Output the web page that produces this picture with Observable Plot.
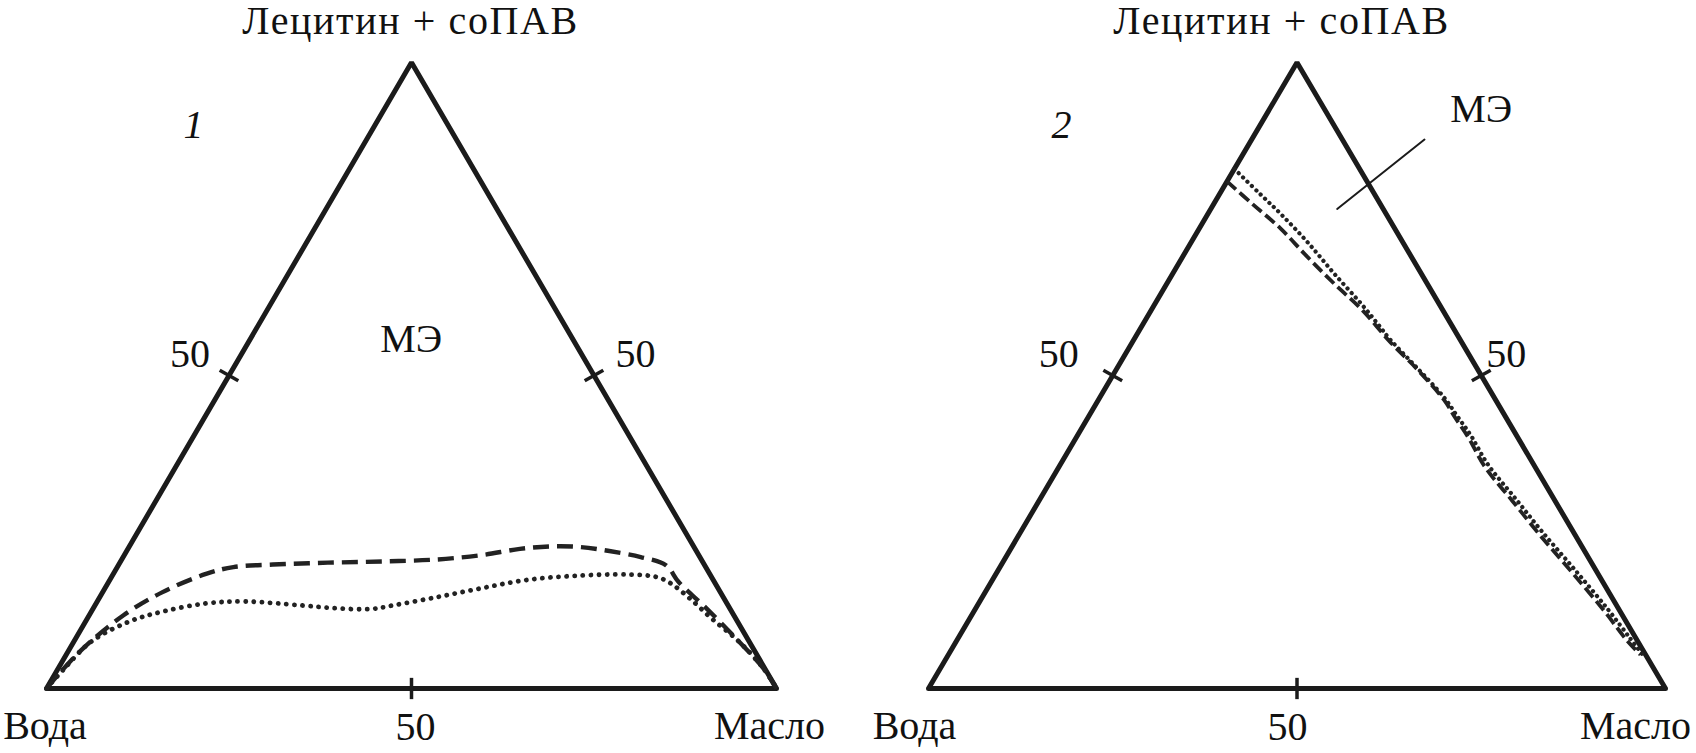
<!DOCTYPE html>
<html>
<head>
<meta charset="utf-8">
<script src="https://cdn.jsdelivr.net/npm/d3@7"></script>
<script src="https://cdn.jsdelivr.net/npm/@observablehq/plot@0.6"></script>
<style>
html, body { margin: 0; padding: 0; background: #fff; }
#chart { position: relative; width: 1696px; height: 753px; overflow: hidden; background: #fff; }
#chart svg { position: absolute; top: 0; }
</style>
</head>
<body>
<div id="chart"></div>
<script>
// ---- Data (ternary compositions: [oil %, lecithin + co-surfactant %]; water = 100 - oil - lecithin) ----
const vertexNames = ["Вода", "Масло", "Лецитин + соПАВ"];
const vertexComps = [[0, 0], [100, 0], [0, 100]];
const tickValue = 50;
const tickComps = [[50, 0], [0, 50], [50, 50]];      // bottom, left, right edge at 50 %
const panelNames = ["1", "2"];
const regionLabel = "МЭ";

// Panel 1 – boundary curves
const p1Dashed = [[0,0],[1.6,5.9],[4.7,11.7],[8.2,15.4],[12.7,18.3],[15.9,19.4],[21.1,19.8],[28.5,20.1],
  [35.9,20.3],[43.1,20.6],[48.9,21.3],[53.7,22.3],[57.9,22.7],[61.8,22.6],[65.9,22.0],[70.9,21.0],
  [75.0,19.7],[78.1,17.0],[84.0,12.8],[91.1,7.5],[96.5,3.3],[100,0]];
const p1Dotted = [[0,0],[0.8,3.0],[2.4,7.5],[6.0,10.7],[9.8,12.3],[15.1,13.6],[20.2,13.9],[28.0,13.3],
  [33.5,12.8],[38.1,12.7],[40.9,13.3],[46.2,14.6],[51.5,16.0],[56.9,17.3],[63.3,18.0],[70.7,18.2],
  [74.7,17.8],[77.1,16.8],[80.9,14.4],[85.5,11.2],[91.1,7.5],[96.5,3.3],[100,0]];

// Panel 2 – boundary curves
const p2Dotted = [[0,83],[5.2,79.2],[9.9,75.8],[15.9,71.2],[22.0,66.2],[28.3,61.2],[32.0,58.1],[34.7,55.8],
  [40.7,51.2],[46.7,46.5],[50.0,43.5],[53.4,40.4],[58.0,35.8],[64.4,30.4],[70.8,25.0],[78.3,18.9],
  [85.8,12.7],[91.1,8.1],[94.2,5.4]];
const p2Dashed = [[0,81],[5.4,77.3],[11.0,73.5],[17.0,68.9],[22.8,64.6],[28.7,60.4],[34.9,55.4],[40.8,51.0],
  [46.9,46.1],[49.8,43.3],[53.3,40.0],[57.8,35.4],[64.2,30.0],[70.6,24.6],[78.1,18.5],[85.6,12.3],
  [90.9,7.7],[93.9,5.4]];

// Annotation anchors (ternary)
const p1NamePos = [-23.8, 87.9];
const p2NamePos = [-25.9, 87.9];
const p1RegionPos = [23.1, 53.7];
const p2RegionPos = [29.75, 90.5];
const p2Leader = [[17.15, 76.6], [23.45, 87.7]];

// ---- Helpers ----
const X = d => d[0] + d[1] / 2;
const Y = d => d[1];
const FONT = "Liberation Serif";
const INK = "#1b1b1b";

const tickDirs = [[-0.5, 1], [1, -0.5], [-0.5, -0.5]];
const tickHalf = 1.7;
const ticks = tickComps.map((c, i) => {
  const [dox, dl] = tickDirs[i];
  return {a: [c[0] - dox * tickHalf, c[1] - dl * tickHalf], b: [c[0] + dox * tickHalf, c[1] + dl * tickHalf]};
});

const panels = [
  {
    left: 0, xRange: [46, 776],
    curves: [
      {data: p1Dashed, dash: "16,8", width: 4.4, cap: "butt"},
      {data: p1Dotted, dash: "0.1,8", width: 4.8, cap: "round"}
    ],
    namePos: p1NamePos, name: panelNames[0], regionPos: p1RegionPos, leader: null,
    vDx: [-1.5, -7, -1], tDx: [4, -39, 41.5]
  },
  {
    left: 848, xRange: [80, 817],
    curves: [
      {data: p2Dashed, dash: "12,5", width: 3.8, cap: "butt"},
      {data: p2Dotted, dash: "0.1,6", width: 4.2, cap: "round"}
    ],
    namePos: p2NamePos, name: panelNames[1], regionPos: p2RegionPos, leader: p2Leader,
    vDx: [-14, -30, -15.5], tDx: [-9.5, -54, 25]
  }
];
const vDy = [50.5, 50.5, -28.5];
const tDy = [51, -9, -9];

const triangle = [vertexComps[0], vertexComps[1], vertexComps[2], vertexComps[0], vertexComps[1]];

const chart = document.getElementById("chart");

function render() {
  chart.innerHTML = "";
  panels.forEach(p => {
    const vLabels = vertexNames.map((t, i) => ({t, c: vertexComps[i], dx: p.vDx[i], dy: vDy[i]}));
    const tLabels = tickComps.map((c, i) => ({t: String(tickValue), c, dx: p.tDx[i], dy: tDy[i]}));
    const marks = [];
    marks.push(Plot.line(triangle, {x: X, y: Y, stroke: INK, strokeWidth: 5, strokeLinejoin: "miter"}));
    marks.push(Plot.link(ticks, {x1: d => X(d.a), y1: d => Y(d.a), x2: d => X(d.b), y2: d => Y(d.b), stroke: INK, strokeWidth: 3.5}));
    p.curves.forEach(cv => {
      marks.push(Plot.line(cv.data, {x: X, y: Y, curve: "catmull-rom", stroke: "#222",
        strokeWidth: cv.width, strokeDasharray: cv.dash, strokeLinecap: cv.cap}));
    });
    if (p.leader) {
      marks.push(Plot.line(p.leader, {x: X, y: Y, stroke: INK, strokeWidth: 2}));
    }
    for (const lab of [...vLabels, ...tLabels]) {
      marks.push(Plot.text([lab], {x: d => X(d.c), y: d => Y(d.c), text: d => d.t, dx: lab.dx, dy: lab.dy,
        textAnchor: "middle", lineAnchor: "bottom", fontFamily: FONT, fontSize: 40}));
    }
    marks.push(Plot.text([p.namePos], {x: X, y: Y, text: () => p.name, textAnchor: "middle", lineAnchor: "bottom",
      fontFamily: FONT, fontSize: 40, fontStyle: "italic"}));
    marks.push(Plot.text([p.regionPos], {x: X, y: Y, text: () => regionLabel, textAnchor: "middle", lineAnchor: "bottom",
      fontFamily: FONT, fontSize: 40}));

    const svg = Plot.plot({
      width: 848, height: 753,
      marginTop: 0, marginBottom: 0, marginLeft: 0, marginRight: 0,
      x: {domain: [0, 100], range: p.xRange, axis: null},
      y: {domain: [0, 100], range: [688, 62], axis: null},
      marks
    });
    svg.style.left = p.left + "px";
    svg.style.background = "transparent";
    svg.style.overflow = "visible";
    const root = d3.select(svg).attr("font-family", FONT);
    root.selectAll("text").attr("font-family", FONT).style("font-family", FONT).attr("fill", "#111");
    root.selectAll("text").filter(function() { return this.textContent === vertexNames[2]; })
      .attr("letter-spacing", "1.6");
    chart.appendChild(svg);
  });
}

render();
if (document.fonts && document.fonts.load) {
  Promise.all([
    document.fonts.load("40px 'Liberation Serif'", "Лецитин + соПАВ Вода Масло МЭ 50"),
    document.fonts.load("italic 40px 'Liberation Serif'", "12")
  ]).then(render).catch(() => {});
}
</script>
</body>
</html>
